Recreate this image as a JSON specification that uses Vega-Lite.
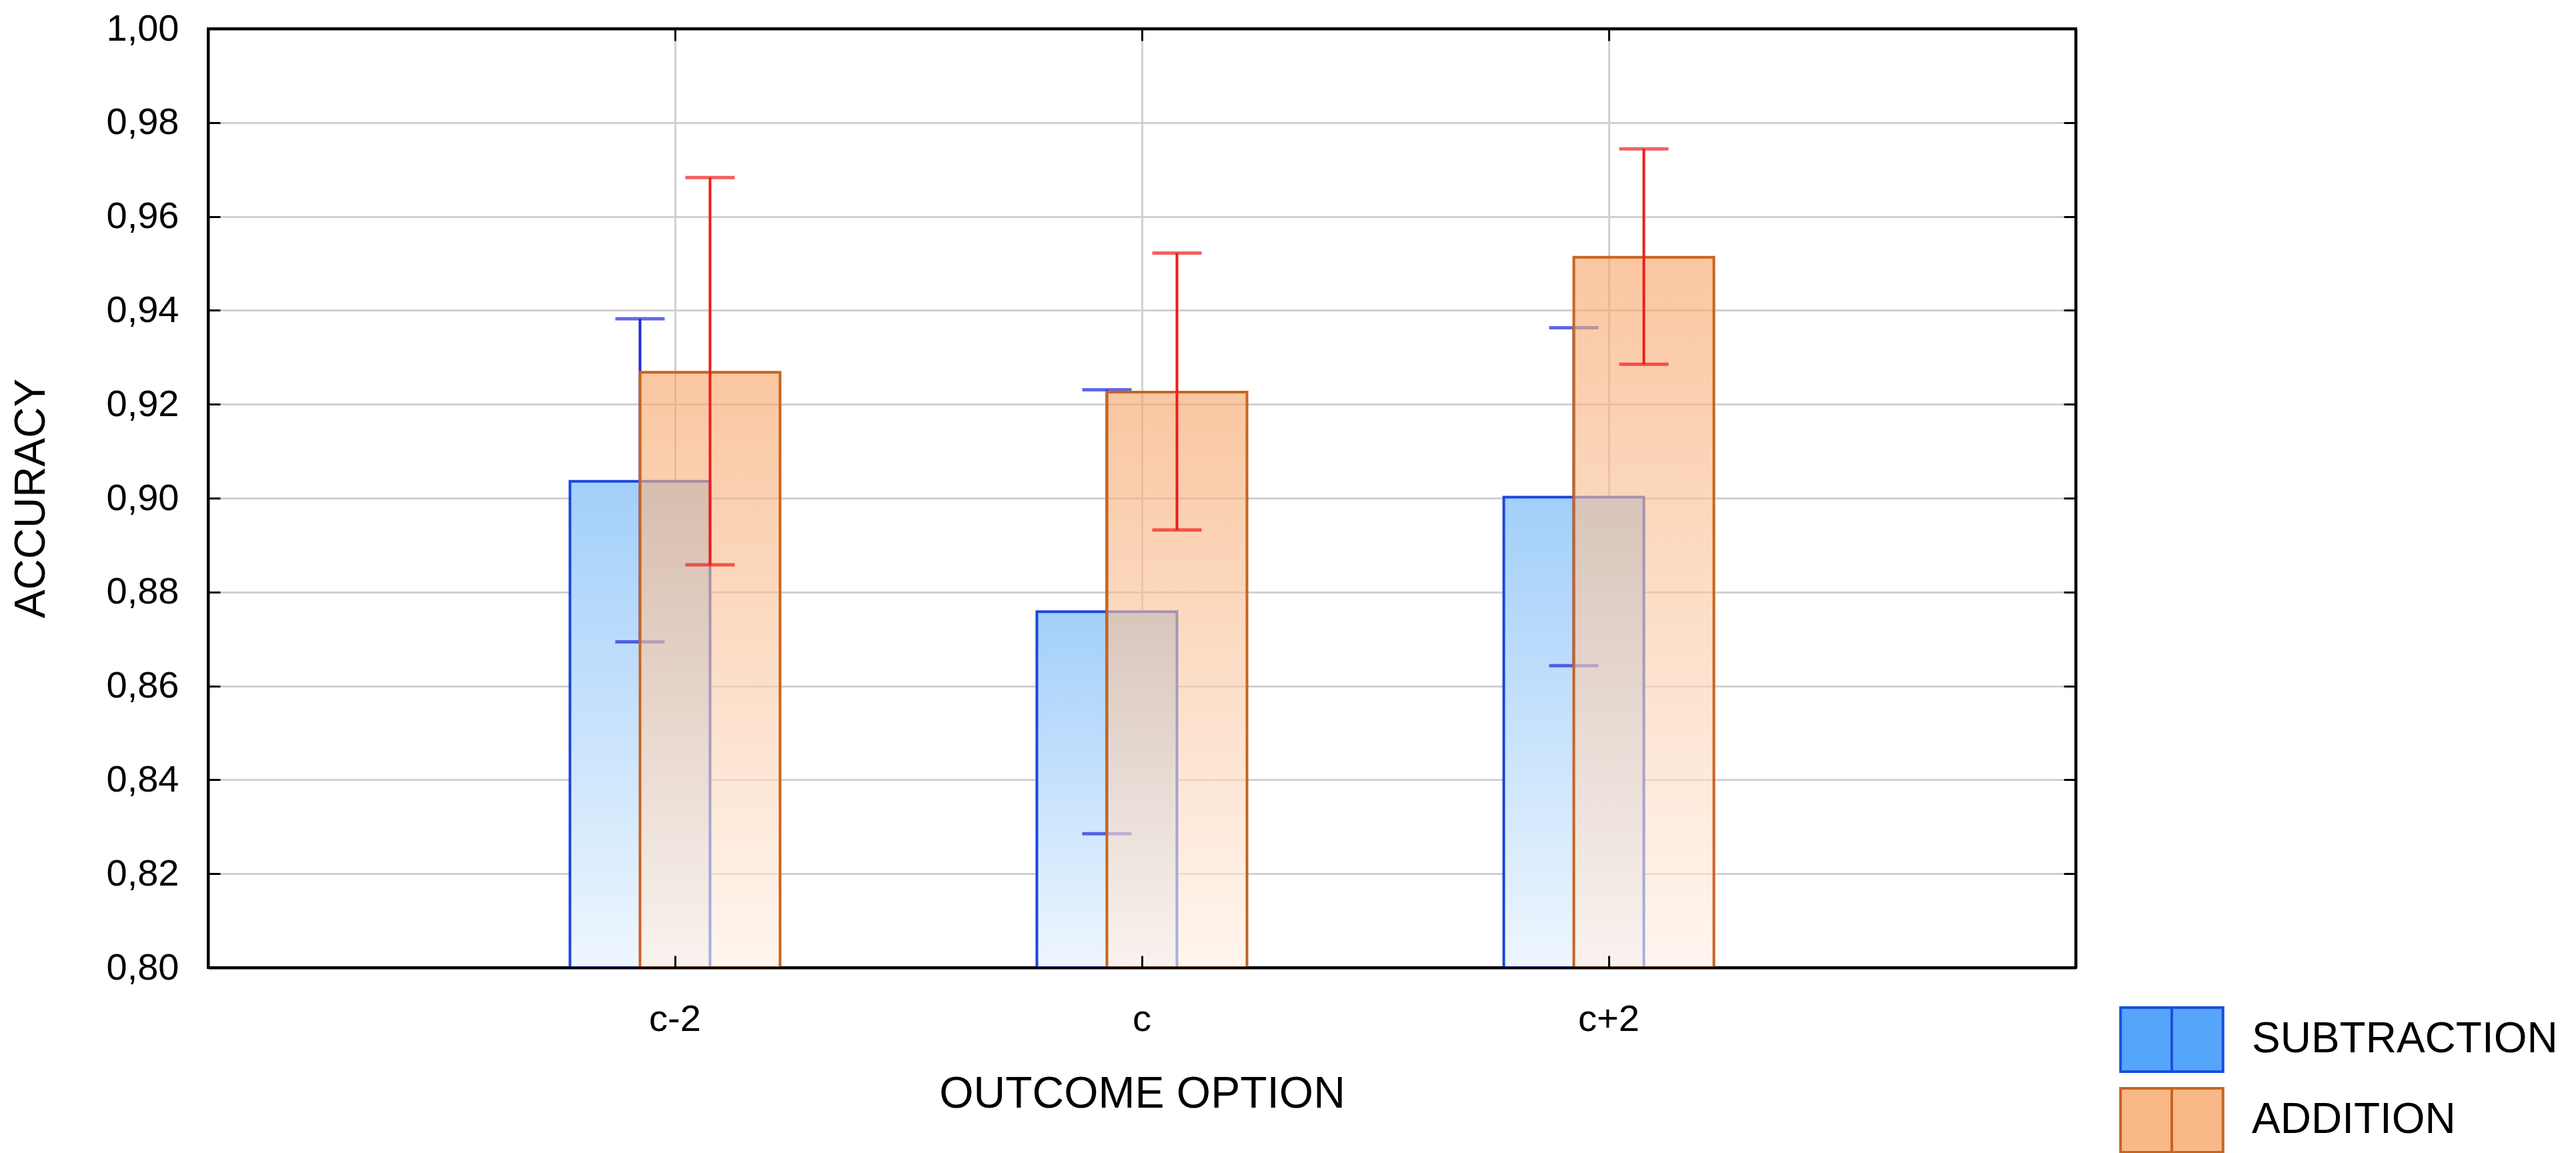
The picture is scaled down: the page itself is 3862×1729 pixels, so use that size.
{
  "$schema": "https://vega.github.io/schema/vega-lite/v6.json",
  "width": 2800,
  "height": 1408,
  "autosize": {"type": "none"},
  "padding": {"left": 312, "top": 43, "right": 750, "bottom": 278},
  "background": "white",
  "data": {
    "values": [
      {"option": "c-2", "series": "SUBTRACTION", "mean": 0.9036, "lo": 0.8694, "hi": 0.9382},
      {"option": "c-2", "series": "ADDITION", "mean": 0.9268, "lo": 0.8858, "hi": 0.9683},
      {"option": "c", "series": "SUBTRACTION", "mean": 0.8758, "lo": 0.8285, "hi": 0.9231},
      {"option": "c", "series": "ADDITION", "mean": 0.9226, "lo": 0.8932, "hi": 0.9522},
      {"option": "c+2", "series": "SUBTRACTION", "mean": 0.9002, "lo": 0.8643, "hi": 0.9363},
      {"option": "c+2", "series": "ADDITION", "mean": 0.9513, "lo": 0.9285, "hi": 0.9744}
    ]
  },
  "encoding": {
    "x": {
      "field": "option", "type": "nominal", "sort": ["c-2", "c", "c+2"],
      "scale": {"paddingInner": 0, "paddingOuter": 0.5},
      "axis": null
    }
  },
  "layer": [
    {
      "transform": [{"filter": "datum.series === 'SUBTRACTION'"}],
      "mark": {
        "type": "bar", "width": 210, "xOffset": -52.5,
        "fill": {"gradient": "linear", "x1": 0, "y1": 0, "x2": 0, "y2": 1,
                 "stops": [{"offset": 0, "color": "#A2CFFA"}, {"offset": 1, "color": "#EEF6FE"}]},
        "stroke": "#1A46DC", "strokeWidth": 4
      },
      "encoding": {
        "x": {
          "field": "option", "type": "nominal", "sort": ["c-2", "c", "c+2"],
          "scale": {"paddingInner": 0, "paddingOuter": 0.5},
          "axis": {
            "orient": "bottom", "title": "OUTCOME OPTION", "labelAngle": 0,
            "labelFontSize": 56, "titleFontSize": 66, "tickSize": -18,
            "labelPadding": 68, "titlePadding": 52, "grid": false, "zindex": 1
          }
        },
        "y": {
          "field": "mean", "type": "quantitative",
          "scale": {"domain": [0.8, 1.0], "nice": false, "zero": false},
          "axis": {
            "orient": "left", "title": "ACCURACY",
            "values": [0.8, 0.82, 0.84, 0.86, 0.88, 0.9, 0.92, 0.94, 0.96, 0.98, 1.0],
            "labelExpr": "replace(format(datum.value, '.2f'), '.', ',')",
            "labelFontSize": 56, "titleFontSize": 64, "tickSize": -18,
            "labelPadding": 62, "titlePadding": 80, "grid": false, "zindex": 1
          }
        },
        "y2": {"datum": 0.8}
      }
    },
    {
      "transform": [{"filter": "datum.series === 'SUBTRACTION'"}],
      "mark": {"type": "rule", "xOffset": -52.5, "color": "#1C2AD8", "strokeWidth": 4},
      "encoding": {
        "y": {"field": "lo", "type": "quantitative", "axis": null},
        "y2": {"field": "hi"}
      }
    },
    {
      "transform": [
        {"filter": "datum.series === 'SUBTRACTION'"},
        {"fold": ["lo", "hi"], "as": ["bound", "v"]}
      ],
      "mark": {"type": "tick", "xOffset": -52.5, "color": "#1C2AD8", "thickness": 5, "size": 74},
      "encoding": {
        "y": {"field": "v", "type": "quantitative", "axis": null}
      }
    },
    {
      "transform": [{"filter": "datum.series === 'ADDITION'"}],
      "mark": {
        "type": "bar", "width": 210, "xOffset": 52.5,
        "fill": {"gradient": "linear", "x1": 0, "y1": 0, "x2": 0, "y2": 1,
                 "stops": [{"offset": 0, "color": "#F6A467"}, {"offset": 1, "color": "#FFF0E5"}]},
        "fillOpacity": 0.62,
        "stroke": "#C8641E", "strokeWidth": 4
      },
      "encoding": {
        "x": {
          "field": "option", "type": "nominal", "sort": ["c-2", "c", "c+2"],
          "scale": {"paddingInner": 0, "paddingOuter": 0.5},
          "axis": {
            "orient": "top", "title": null, "labels": false, "tickSize": -18,
            "grid": true, "gridColor": "#D0D0D0", "gridWidth": 3, "zindex": 0
          }
        },
        "y": {
          "field": "mean", "type": "quantitative",
          "axis": {
            "orient": "right", "title": null, "labels": false, "tickSize": -18,
            "values": [0.8, 0.82, 0.84, 0.86, 0.88, 0.9, 0.92, 0.94, 0.96, 0.98, 1.0],
            "grid": true, "gridColor": "#D0D0D0", "gridWidth": 3, "zindex": 0
          }
        },
        "y2": {"datum": 0.8}
      }
    },
    {
      "transform": [{"filter": "datum.series === 'ADDITION'"}],
      "mark": {"type": "rule", "xOffset": 52.5, "color": "#EE1C1C", "strokeWidth": 4},
      "encoding": {
        "y": {"field": "lo", "type": "quantitative", "axis": null},
        "y2": {"field": "hi"}
      }
    },
    {
      "transform": [
        {"filter": "datum.series === 'ADDITION'"},
        {"fold": ["lo", "hi"], "as": ["bound", "v"]}
      ],
      "mark": {"type": "tick", "xOffset": 52.5, "color": "#EE1C1C", "thickness": 5, "size": 74},
      "encoding": {
        "y": {"field": "v", "type": "quantitative", "axis": null}
      }
    },
    {
      "mark": {"type": "point", "filled": true, "clip": true},
      "encoding": {
        "y": {"datum": 0.5, "type": "quantitative", "axis": null},
        "fill": {
          "field": "series", "type": "nominal",
          "scale": {"domain": ["SUBTRACTION", "ADDITION"], "range": ["#55A5FA", "#F8B888"]}
        },
        "stroke": {
          "field": "series", "type": "nominal",
          "scale": {"domain": ["SUBTRACTION", "ADDITION"], "range": ["#1950DC", "#C8641E"]}
        }
      }
    }
  ],
  "config": {
    "view": {"stroke": "black", "strokeWidth": 4},
    "font": "Liberation Sans",
    "axis": {
      "labelFont": "Liberation Sans", "titleFont": "Liberation Sans",
      "labelColor": "black", "titleColor": "black", "titleFontWeight": "normal",
      "domainColor": "black", "domainWidth": 4, "tickColor": "black", "tickWidth": 3
    },
    "legend": {
      "orient": "none", "legendX": 2894, "legendY": 1466, "title": null,
      "padding": 0,
      "symbolType": "M-1.6,-1H1.6V1H-1.6Z M0,-1V1",
      "symbolSize": 9216, "symbolStrokeWidth": 4, "symbolOpacity": 1,
      "labelFont": "Liberation Sans", "labelFontSize": 64, "labelColor": "black",
      "labelOffset": 70, "rowPadding": 9, "labelLimit": 0
    }
  }
}
